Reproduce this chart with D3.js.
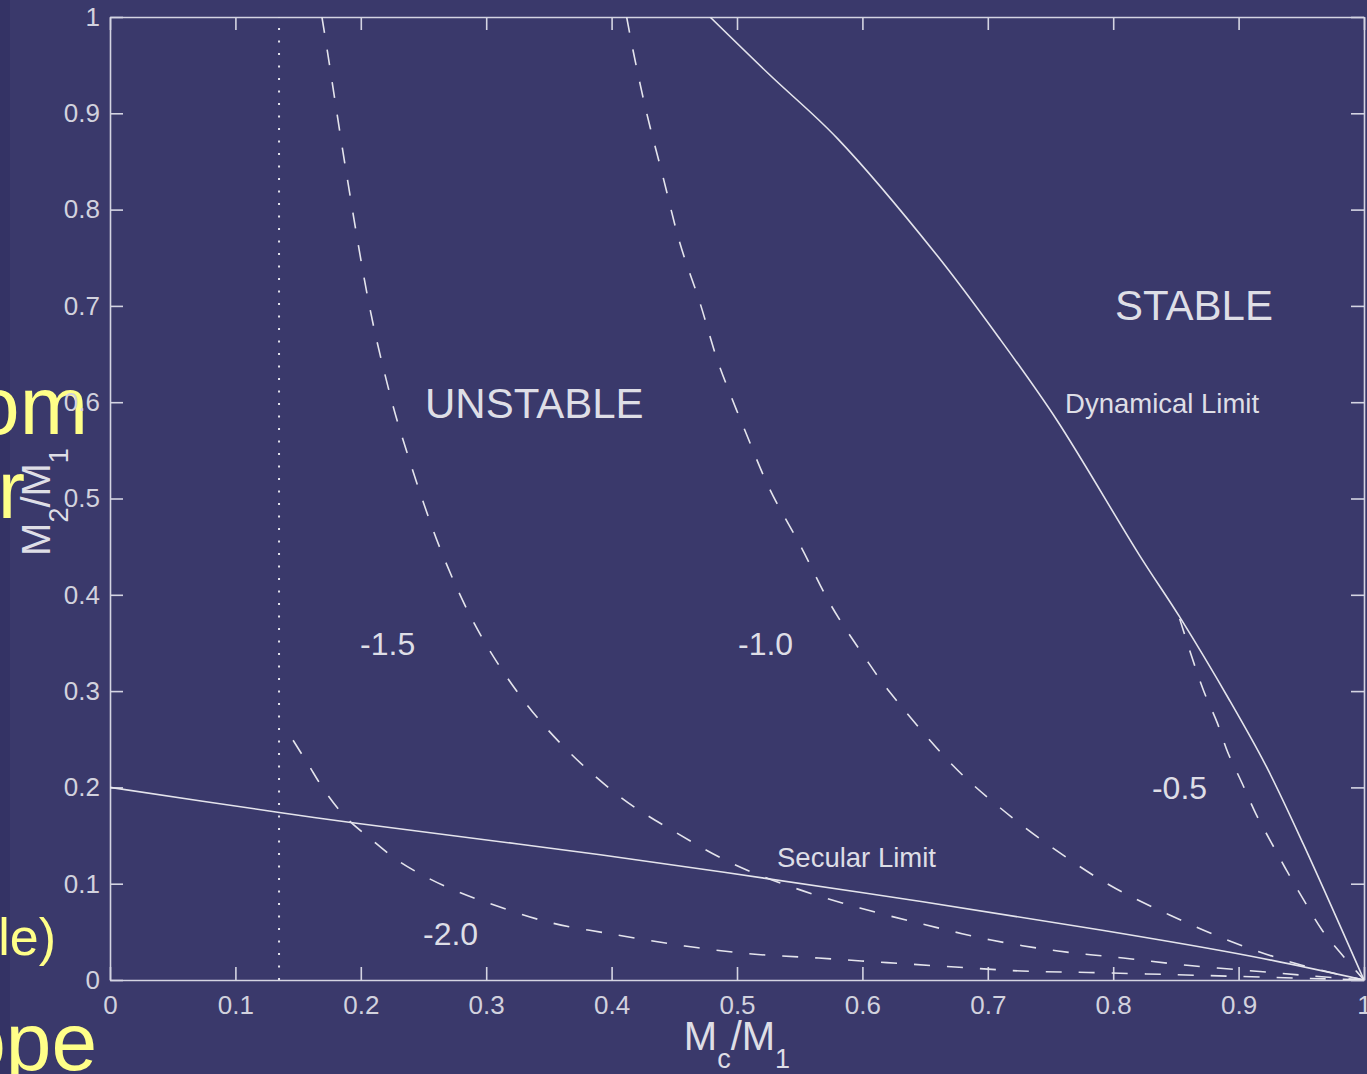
<!DOCTYPE html>
<html>
<head>
<meta charset="utf-8">
<script src="https://cdn.jsdelivr.net/npm/d3@7"></script>
<style>
  html, body { margin: 0; padding: 0; background: #3a396b; }
  svg { display: block; font-family: "Liberation Sans", Arial, sans-serif; }
</style>
</head>
<body>
<div class="canvas"></div>
<script>
// tick values
const xTicks = [0, 0.1, 0.2, 0.3, 0.4, 0.5, 0.6, 0.7, 0.8, 0.9, 1];
const yTicks = [0, 0.1, 0.2, 0.3, 0.4, 0.5, 0.6, 0.7, 0.8, 0.9, 1];

// solid limits [Mc/M1, M2/M1]
const dynamicalLimit = [[0.4785, 1.0], [0.526, 0.94], [0.58, 0.874], [0.658, 0.755],
  [0.71, 0.665], [0.755, 0.5815], [0.821, 0.441], [0.853, 0.377], [0.893, 0.29], [0.922, 0.222],
  [0.952, 0.14], [1, 0]];
const secularLimit = [[0, 0.2], [0.135, 0.174], [0.195, 0.163], [0.391, 0.13], [0.6005, 0.0906],
  [0.79, 0.052], [0.909, 0.025], [1, 0]];

// dashed curves, labelled by exponent
const curveM05 = [[0.853, 0.375], [0.8636, 0.332], [0.8725, 0.299], [0.883, 0.267], [0.8915, 0.236],
  [0.9027, 0.2046], [0.914, 0.172], [0.926, 0.143], [0.9386, 0.113], [0.952, 0.083], [0.9665, 0.052],
  [0.982, 0.027], [1, 0]];
const curveM10 = [[0.412, 1.0], [0.417, 0.966], [0.428, 0.9], [0.441, 0.834], [0.4545, 0.765],
  [0.4705, 0.703], [0.484, 0.645], [0.4956, 0.605], [0.5056, 0.573], [0.526, 0.51], [0.551, 0.45],
  [0.575, 0.389], [0.603, 0.333], [0.62, 0.302], [0.672, 0.223], [0.71, 0.1786], [0.752, 0.137],
  [0.797, 0.0986], [0.845, 0.0675], [0.895, 0.0395], [0.947, 0.0166], [1, 0]];
const curveM15 = [[0.169, 1.0], [0.1715, 0.98], [0.189, 0.834], [0.207, 0.699], [0.219, 0.63],
  [0.232, 0.568], [0.267, 0.436], [0.301, 0.346], [0.347, 0.263], [0.405, 0.192], [0.4506, 0.1537],
  [0.497, 0.1205], [0.546, 0.0955], [0.598, 0.0748], [0.651, 0.0571], [0.7026, 0.0415], [0.756, 0.0301],
  [0.808, 0.0228], [0.861, 0.015], [0.917, 0.0088], [0.96, 0.004], [1, 0]];
const curveM20 = [[0.146, 0.249], [0.158, 0.224], [0.1715, 0.196], [0.188, 0.169], [0.208, 0.1464],
  [0.229, 0.1246], [0.252, 0.107], [0.276, 0.0924], [0.3014, 0.08], [0.35, 0.06], [0.405, 0.0467],
  [0.4585, 0.0353], [0.512, 0.027], [0.565, 0.0228], [0.6196, 0.018], [0.674, 0.0135], [0.727, 0.0093],
  [0.78, 0.0078], [0.85, 0.0055], [0.92, 0.003], [1, 0]];

// dotted vertical line
const dottedX = 0.1348;

// annotations (anchor point in data units)
const bigLabels = [
  { text: 'UNSTABLE', x: 0.2512, y: 0.5836 },
  { text: 'STABLE', x: 0.8014, y: 0.6854 }
];
const limitLabels = [
  { text: 'Dynamical Limit', x: 0.7616, y: 0.5888 },
  { text: 'Secular Limit', x: 0.5319, y: 0.1173 }
];
const curveLabels = [
  { text: '-1.5', x: 0.1994, y: 0.3375 },
  { text: '-1.0', x: 0.5008, y: 0.3375 },
  { text: '-0.5', x: 0.8309, y: 0.188 },
  { text: '-2.0', x: 0.2496, y: 0.0363 }
];

// leftover slide text at the left edge
const slideText = ['om', 'r', 'le)', 'ope'];

const dims = { width: 1367, height: 1074 };
const margin = { top: 17, left: 110 };
const W = 1254, H = 963;
const lineColor = '#e4e4ec';
const textColor = '#dedee6';

const svg = d3.select('.canvas')
  .append('svg')
  .attr('width', dims.width)
  .attr('height', dims.height);

svg.append('rect').attr('width', dims.width).attr('height', dims.height).attr('fill', '#3a396b');
svg.append('rect').attr('width', 10).attr('height', dims.height).attr('fill', '#343365');

// yellow slide text behind the chart
const slidePos = [
  { x: 88, y: 434, size: 82 },
  { x: 25, y: 518, size: 82 },
  { x: 56, y: 955, size: 52 },
  { x: 97, y: 1070, size: 82 }
];
svg.selectAll('.slide')
  .data(slideText)
  .enter()
  .append('text')
  .attr('class', 'slide')
  .attr('x', (d, i) => slidePos[i].x)
  .attr('y', (d, i) => slidePos[i].y)
  .attr('text-anchor', 'end')
  .attr('font-size', (d, i) => slidePos[i].size)
  .attr('fill', '#ffff88')
  .text(d => d);

const graph = svg.append('g')
  .attr('transform', `translate(${margin.left}, ${margin.top})`);

const x = d3.scaleLinear().domain([0, 1]).range([0, W]);
const y = d3.scaleLinear().domain([0, 1]).range([H, 0]);

graph.append('clipPath').attr('id', 'plot')
  .append('rect').attr('width', W).attr('height', H);

const fmt = d3.format('~g');

// axes, ticks pointing inward on all four sides
const xAxis = graph.append('g')
  .attr('transform', `translate(0, ${H})`)
  .call(d3.axisBottom(x).tickValues(xTicks).tickFormat(fmt).tickSizeInner(-13).tickSizeOuter(0).tickPadding(16));
const yAxis = graph.append('g')
  .call(d3.axisLeft(y).tickValues(yTicks).tickFormat(fmt).tickSizeInner(-13).tickSizeOuter(0).tickPadding(10));
const topAxis = graph.append('g')
  .call(d3.axisTop(x).tickValues(xTicks).tickFormat('').tickSizeInner(-13).tickSizeOuter(0));
const rightAxis = graph.append('g')
  .attr('transform', `translate(${W}, 0)`)
  .call(d3.axisRight(y).tickValues(yTicks).tickFormat('').tickSizeInner(-13).tickSizeOuter(0));

[xAxis, yAxis, topAxis, rightAxis].forEach(a => {
  a.select('.domain').attr('stroke', '#d4d4e2').attr('stroke-width', 1.6);
  a.selectAll('.tick line').attr('stroke', '#d4d4e2').attr('stroke-width', 1.6);
  a.selectAll('.tick text')
    .attr('font-size', 26)
    .attr('font-family', '"Liberation Sans", Arial, sans-serif')
    .attr('fill', '#d2d2de');
});

// curves
const line = d3.line()
  .x(d => x(d[0]))
  .y(d => y(d[1]))
  .curve(d3.curveCatmullRom.alpha(0.5));

const curves = graph.append('g').attr('clip-path', 'url(#plot)');

curves.append('line')
  .attr('x1', x(dottedX)).attr('x2', x(dottedX))
  .attr('y1', y(0)).attr('y2', y(1))
  .attr('stroke', lineColor)
  .attr('stroke-width', 2)
  .attr('stroke-dasharray', '2 10.5');

[curveM05, curveM10, curveM15, curveM20].forEach(c => {
  curves.append('path')
    .attr('d', line(c))
    .attr('fill', 'none')
    .attr('stroke', lineColor)
    .attr('stroke-width', 1.6)
    .attr('stroke-dasharray', '16 17');
});

[dynamicalLimit, secularLimit].forEach(c => {
  curves.append('path')
    .attr('d', line(c))
    .attr('fill', 'none')
    .attr('stroke', lineColor)
    .attr('stroke-width', 1.6);
});

// annotations
const addLabels = (list, size) => {
  graph.selectAll(null)
    .data(list)
    .enter()
    .append('text')
    .attr('x', d => x(d.x))
    .attr('y', d => y(d.y))
    .attr('font-size', size)
    .attr('fill', textColor)
    .text(d => d.text);
};
addLabels(bigLabels, 42);
addLabels(limitLabels, 27.5);
addLabels(curveLabels, 32);

// axis titles
const xTitle = graph.append('text')
  .attr('x', x(0.5))
  .attr('y', H + 70)
  .attr('text-anchor', 'middle')
  .attr('font-size', 40)
  .attr('fill', textColor);
xTitle.append('tspan').text('M');
xTitle.append('tspan').attr('dy', 18).attr('font-size', 27).text('c');
xTitle.append('tspan').attr('dy', -18).text('/M');
xTitle.append('tspan').attr('dy', 18).attr('font-size', 27).text('1');

const yTitle = svg.append('text')
  .attr('transform', 'translate(50, 502) rotate(-90)')
  .attr('text-anchor', 'middle')
  .attr('font-size', 40)
  .attr('fill', textColor);
yTitle.append('tspan').text('M');
yTitle.append('tspan').attr('dy', 18).attr('font-size', 27).text('2');
yTitle.append('tspan').attr('dy', -18).text('/M');
yTitle.append('tspan').attr('dy', 18).attr('font-size', 27).text('1');
</script>
</body>
</html>
